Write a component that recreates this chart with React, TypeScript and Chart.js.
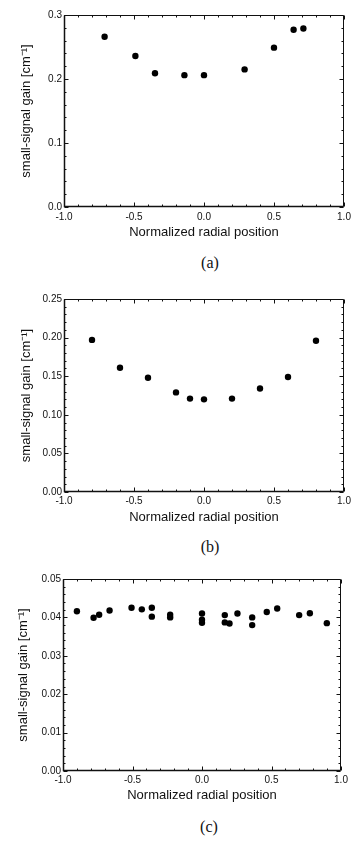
import React, { useEffect, useRef } from "react";
import { Chart, registerables } from "chart.js";
Chart.register(...registerables);

// ---- data ----
const xTickValues = [-1.0, -0.5, 0.0, 0.5, 1.0];
const yTicksA = [0.0, 0.1, 0.2, 0.3];
const yTicksB = [0.0, 0.05, 0.1, 0.15, 0.2, 0.25];
const yTicksC = [0.0, 0.01, 0.02, 0.03, 0.04, 0.05];

const positionA = [-0.71, -0.49, -0.35, -0.14, 0.0, 0.29, 0.5, 0.64, 0.71];
const gainA = [0.266, 0.236, 0.209, 0.206, 0.206, 0.215, 0.249, 0.277, 0.279];

const positionB = [-0.8, -0.6, -0.4, -0.2, -0.1, 0.0, 0.2, 0.4, 0.6, 0.8];
const gainB = [0.197, 0.161, 0.148, 0.129, 0.121, 0.12, 0.121, 0.134, 0.149, 0.196];

const positionC = [
  -0.9, -0.78, -0.74, -0.665, -0.507, -0.433, -0.361, -0.361, -0.229, -0.229,
  0.0, 0.0, 0.0, 0.164, 0.164, 0.198, 0.255, 0.361, 0.361, 0.466, 0.541, 0.699,
  0.776, 0.898,
];
const gainC = [
  0.0416, 0.0399, 0.0407, 0.0418, 0.0425, 0.0421, 0.0425, 0.0402, 0.0407, 0.04,
  0.041, 0.0394, 0.0386, 0.0406, 0.0387, 0.0384, 0.041, 0.04, 0.038, 0.0414,
  0.0423, 0.0406, 0.0411, 0.0385,
];

const xAxisTitle = "Normalized radial position";
const yAxisTitle = "small-signal gain [cm\u207B\u00B9]";
const captions = ["(a)", "(b)", "(c)"];

// ---- layout / style ----
const W = 351;
const H = 250;
const TITLE_SIZE = 13;
const TITLE_LH = TITLE_SIZE * 1.2;
const INK = "#111";

type PanelCfg = {
  pos: number[];
  gain: number[];
  yTicks: number[];
  decimals: number;
  yMinor: number;
  top: number;
  plotTop: number;
  plotBottom: number;
  plotLeft: number;
  plotRight: number;
  yTitleX: number;
  xTitleY: number;
  capX: number;
  capY: number;
  caption: string;
  tickSize: number;
  xTickPad: number;
};

const panels: PanelCfg[] = [
  {
    pos: positionA, gain: gainA, yTicks: yTicksA, decimals: 1, yMinor: 0.02,
    top: 0, plotTop: 15, plotBottom: 207, plotLeft: 64, plotRight: 344,
    yTitleX: 26, xTitleY: 232, capX: 210, capY: 263, caption: captions[0], tickSize: 10, xTickPad: 4,
  },
  {
    pos: positionB, gain: gainB, yTicks: yTicksB, decimals: 2, yMinor: 0.01,
    top: 280, plotTop: 299, plotBottom: 492, plotLeft: 64, plotRight: 344,
    yTitleX: 26, xTitleY: 517, capX: 210, capY: 547, caption: captions[1], tickSize: 10, xTickPad: 3,
  },
  {
    pos: positionC, gain: gainC, yTicks: yTicksC, decimals: 2, yMinor: 0.002,
    top: 560, plotTop: 579, plotBottom: 771, plotLeft: 63, plotRight: 341,
    yTitleX: 23, xTitleY: 795, capX: 209, capY: 827, caption: captions[2], tickSize: 10, xTickPad: 3,
  },
];

const framePlugin = {
  id: "frame",
  beforeDatasetsDraw(chart: any, _args: any, opts: any) {
    const { ctx, chartArea: a, scales } = chart;
    const xs = scales.x;
    const ys = scales.y;
    ctx.save();
    ctx.strokeStyle = INK;
    ctx.lineWidth = 1;
    const L = Math.round(a.left) + 0.5;
    const R = Math.round(a.right) - 0.5;
    const T = Math.round(a.top) + 0.5;
    const B = Math.round(a.bottom) - 0.5;
    ctx.beginPath();
    ctx.rect(L, T, R - L, B - T);
    ctx.stroke();
    // x ticks (bottom & top, pointing inward)
    const xMinor = opts.xMinor as number;
    const nx = Math.round((xs.max - xs.min) / xMinor);
    ctx.beginPath();
    for (let i = 0; i <= nx; i++) {
      const v = xs.min + i * xMinor;
      const px = Math.round(xs.getPixelForValue(v)) + 0.5;
      const major = Math.abs(v / 0.5 - Math.round(v / 0.5)) < 1e-6;
      const len = major ? 4 : 2;
      ctx.moveTo(px, B);
      ctx.lineTo(px, B - len);
      ctx.moveTo(px, T);
      ctx.lineTo(px, T + len);
    }
    // y ticks (left & right)
    const yMinor = opts.yMinor as number;
    const yMajor = opts.yMajor as number;
    const ny = Math.round((ys.max - ys.min) / yMinor);
    for (let i = 0; i <= ny; i++) {
      const v = ys.min + i * yMinor;
      const py = Math.round(ys.getPixelForValue(v)) + 0.5;
      const major = Math.abs(v / yMajor - Math.round(v / yMajor)) < 1e-6;
      const len = major ? 4 : 2;
      ctx.moveTo(L, py);
      ctx.lineTo(L + len, py);
      ctx.moveTo(R, py);
      ctx.lineTo(R - len, py);
    }
    ctx.stroke();
    // slightly heavier left & bottom axis lines
    ctx.lineWidth = 1.5;
    ctx.beginPath();
    ctx.moveTo(L, T);
    ctx.lineTo(L, B);
    ctx.lineTo(R, B);
    ctx.stroke();
    ctx.restore();
  },
};

function Panel({ cfg }: { cfg: PanelCfg }) {
  const ref = useRef<HTMLCanvasElement>(null);
  useEffect(() => {
    const yTicks = cfg.yTicks;
    const yMin = yTicks[0];
    const yMax = yTicks[yTicks.length - 1];
    const yMajor = yTicks[1] - yTicks[0];
    const tickFont = { family: "'Liberation Sans', Arial, sans-serif", size: cfg.tickSize };
    const titleFont = { family: "'Liberation Sans', Arial, sans-serif", size: TITLE_SIZE };
    const chart = new Chart(ref.current as HTMLCanvasElement, {
      type: "scatter",
      data: {
        datasets: [
          {
            data: cfg.pos.map((x, i) => ({ x, y: cfg.gain[i] })),
            backgroundColor: "#000",
            borderColor: "#000",
            borderWidth: 0,
            pointRadius: 3.2,
            pointHoverRadius: 3.2,
          },
        ],
      },
      options: {
        animation: false,
        responsive: false,
        events: [],
        layout: {
          padding: {
            top: cfg.plotTop - cfg.top,
            right: W - cfg.plotRight,
            left: 0,
            bottom: 0,
          },
        },
        plugins: {
          legend: { display: false },
          tooltip: { enabled: false },
          frame: { xMinor: 0.1, yMinor: cfg.yMinor, yMajor },
        } as any,
        scales: {
          x: {
            type: "linear",
            min: -1,
            max: 1,
            afterBuildTicks: (s: any) => {
              s.ticks = xTickValues.map((v) => ({ value: v }));
            },
            afterFit: (s: any) => {
              s.height = H - (cfg.plotBottom - cfg.top);
              s.paddingLeft = 0;
              s.paddingRight = 0;
            },
            ticks: {
              callback: (v: any) => Number(v).toFixed(1),
              font: tickFont,
              color: INK,
              padding: cfg.xTickPad,
              maxRotation: 0,
              autoSkip: false,
            },
            grid: { display: false, drawTicks: false },
            border: { display: false },
            title: {
              display: true,
              text: xAxisTitle,
              font: titleFont,
              color: INK,
              padding: { top: 0, bottom: H - (cfg.xTitleY - cfg.top) - TITLE_LH / 2 },
            },
          },
          y: {
            type: "linear",
            min: yMin,
            max: yMax,
            afterBuildTicks: (s: any) => {
              s.ticks = yTicks.map((v) => ({ value: v }));
            },
            afterFit: (s: any) => {
              s.width = cfg.plotLeft;
              s.paddingTop = 0;
              s.paddingBottom = 0;
            },
            ticks: {
              callback: (v: any) => Number(v).toFixed(cfg.decimals),
              font: tickFont,
              color: INK,
              padding: 2,
              autoSkip: false,
            },
            grid: { display: false, drawTicks: false },
            border: { display: false },
            title: {
              display: true,
              text: yAxisTitle,
              font: titleFont,
              color: INK,
              padding: { top: cfg.yTitleX - TITLE_LH / 2, bottom: 0 },
            },
          },
        },
      } as any,
      plugins: [framePlugin],
    });
    return () => chart.destroy();
  }, [cfg]);
  return (
    <>
      <canvas
        ref={ref}
        width={W}
        height={H}
        style={{ position: "absolute", left: 0, top: cfg.top, width: W, height: H }}
      />
      <div
        style={{
          position: "absolute",
          left: cfg.capX,
          top: cfg.capY,
          transform: "translate(-50%, -50%)",
          fontFamily: "'Liberation Serif', 'Times New Roman', serif",
          fontSize: 16,
          color: INK,
          lineHeight: 1,
          whiteSpace: "nowrap",
        }}
      >
        {cfg.caption}
      </div>
    </>
  );
}

export default function App() {
  return (
    <div
      style={{
        position: "absolute",
        left: 0,
        top: 0,
        width: W,
        height: 841,
        background: "#fff",
        overflow: "hidden",
      }}
    >
      {panels.map((p, i) => (
        <Panel key={i} cfg={p} />
      ))}
    </div>
  );
}
